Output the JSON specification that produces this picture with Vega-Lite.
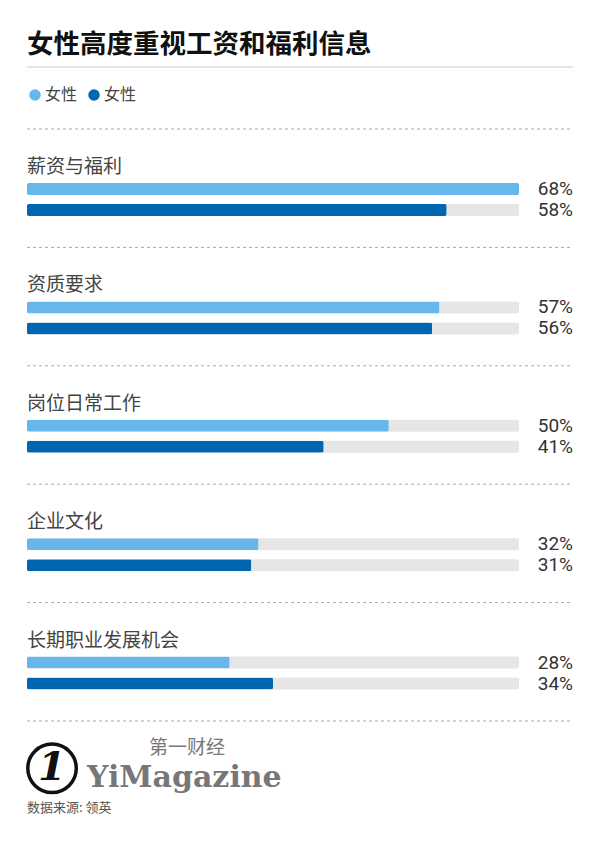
{
  "$schema": "https://vega.github.io/schema/vega-lite/v6.json",
  "width": 492,
  "height": 592,
  "autosize": {"type": "none"},
  "padding": {"left": 27, "top": 129, "right": 81, "bottom": 120},
  "background": "#ffffff",
  "title": {
    "text": "女性高度重视工资和福利信息",
    "anchor": "start",
    "frame": "group",
    "orient": "top",
    "offset": 8,
    "fontSize": 26.5,
    "fontWeight": "bold",
    "font": "Noto Sans CJK SC",
    "color": "#111111"
  },
  "config": {
    "view": {"stroke": null},
    "font": "Noto Sans CJK SC"
  },
  "data": {
    "values": [
      {"category": "薪资与福利", "series": "A", "value": 0.68},
      {"category": "薪资与福利", "series": "B", "value": 0.58},
      {"category": "资质要求", "series": "A", "value": 0.57},
      {"category": "资质要求", "series": "B", "value": 0.56},
      {"category": "岗位日常工作", "series": "A", "value": 0.50},
      {"category": "岗位日常工作", "series": "B", "value": 0.41},
      {"category": "企业文化", "series": "A", "value": 0.32},
      {"category": "企业文化", "series": "B", "value": 0.31},
      {"category": "长期职业发展机会", "series": "A", "value": 0.28},
      {"category": "长期职业发展机会", "series": "B", "value": 0.34}
    ]
  },
  "resolve": {"scale": {"color": "independent"}},
  "layer": [
    {
      "data": {"values": [{}]},
      "mark": {"type": "rule", "color": "#dddddd", "strokeWidth": 1.5},
      "encoding": {
        "x": {"datum": 0, "type": "quantitative", "scale": {"domain": [0, 0.68], "nice": false, "zero": true}, "axis": null},
        "x2": {"datum": 0.7546},
        "y": {"datum": "薪资与福利", "type": "nominal", "bandPosition": -0.524, "scale": {"type": "band", "domain": ["薪资与福利", "资质要求", "岗位日常工作", "企业文化", "长期职业发展机会"], "paddingInner": 0, "paddingOuter": 0}, "axis": null}
      }
    },
    {
      "transform": [{"filter": "datum.series === 'A'"}],
      "mark": {"type": "rule", "color": "#a8a8a8", "strokeWidth": 1, "strokeDash": [3, 3]},
      "encoding": {
        "x": {"datum": 0, "type": "quantitative"},
        "x2": {"datum": 0.7546},
        "y": {"field": "category", "type": "nominal", "bandPosition": 0}
      }
    },
    {
      "data": {"values": [{}]},
      "mark": {"type": "rule", "color": "#a8a8a8", "strokeWidth": 1, "strokeDash": [3, 3]},
      "encoding": {
        "x": {"datum": 0, "type": "quantitative"},
        "x2": {"datum": 0.7546},
        "y": {"datum": "长期职业发展机会", "type": "nominal", "bandPosition": 1}
      }
    },
    {
      "transform": [{"filter": "datum.series === 'A'"}],
      "mark": {"type": "text", "align": "left", "baseline": "middle", "dy": 38, "fontSize": 19, "color": "#444444"},
      "encoding": {
        "x": {"datum": 0, "type": "quantitative"},
        "y": {"field": "category", "type": "nominal", "bandPosition": 0},
        "text": {"field": "category"}
      }
    },
    {
      "mark": {"type": "bar", "color": "#e6e6e6", "cornerRadius": 2},
      "encoding": {
        "x": {"datum": 0.68, "type": "quantitative"},
        "y": {"field": "category", "type": "nominal"},
        "yOffset": {"field": "series", "type": "nominal", "scale": {"domain": ["A", "B"], "range": [54, 87], "paddingInner": 0.4286, "paddingOuter": 0}}
      }
    },
    {
      "mark": {"type": "bar", "cornerRadius": 2},
      "encoding": {
        "x": {"field": "value", "type": "quantitative"},
        "y": {"field": "category", "type": "nominal"},
        "yOffset": {"field": "series", "type": "nominal"},
        "color": {
          "field": "series",
          "type": "nominal",
          "scale": {"domain": ["A", "B"], "range": ["#65b7ec", "#0066b2"]},
          "legend": {
            "orient": "none",
            "legendX": 0,
            "legendY": -42,
            "direction": "horizontal",
            "title": null,
            "symbolType": "circle",
            "symbolSize": 132,
            "symbolStrokeWidth": 0,
            "labelExpr": "'女性'",
            "labelFontSize": 16,
            "labelColor": "#444444",
            "labelFont": "Noto Sans CJK SC",
            "labelOffset": 2,
            "columnPadding": 8,
            "padding": 0
          }
        }
      }
    },
    {
      "mark": {"type": "text", "align": "right", "baseline": "middle", "dx": 54, "fontSize": 19, "font": "Roboto", "color": "#333333"},
      "encoding": {
        "x": {"datum": 0.68, "type": "quantitative"},
        "y": {"field": "category", "type": "nominal"},
        "yOffset": {"field": "series", "type": "nominal"},
        "text": {"field": "value", "type": "quantitative", "format": ".0%"}
      }
    },
    {
      "data": {"values": [{}]},
      "mark": {"type": "point", "shape": "circle", "filled": false, "stroke": "#111111", "strokeWidth": 3.5, "size": 2350, "opacity": 1},
      "encoding": {
        "x": {"datum": 0.0346, "type": "quantitative"},
        "y": {"datum": "长期职业发展机会", "type": "nominal", "bandPosition": 1.4}
      }
    },
    {
      "data": {"values": [{}]},
      "mark": {"type": "text", "text": "1", "align": "center", "baseline": "middle", "dx": 25, "dy": 47, "fontSize": 40, "font": "DejaVu Serif", "fontWeight": "bold", "fontStyle": "italic", "color": "#111111"},
      "encoding": {
        "x": {"datum": 0, "type": "quantitative"},
        "y": {"datum": "长期职业发展机会", "type": "nominal", "bandPosition": 1}
      }
    },
    {
      "data": {"values": [{}]},
      "mark": {"type": "text", "text": "第一财经", "align": "center", "baseline": "middle", "dx": 160, "dy": 27, "fontSize": 19, "color": "#777777"},
      "encoding": {
        "x": {"datum": 0, "type": "quantitative"},
        "y": {"datum": "长期职业发展机会", "type": "nominal", "bandPosition": 1}
      }
    },
    {
      "data": {"values": [{}]},
      "mark": {"type": "text", "text": "YiMagazine", "align": "left", "baseline": "alphabetic", "dx": 60, "dy": 66, "fontSize": 30, "font": "DejaVu Serif", "fontWeight": "bold", "color": "#777777"},
      "encoding": {
        "x": {"datum": 0, "type": "quantitative"},
        "y": {"datum": "长期职业发展机会", "type": "nominal", "bandPosition": 1}
      }
    },
    {
      "data": {"values": [{}]},
      "mark": {"type": "text", "text": "数据来源: 领英", "align": "left", "baseline": "middle", "dy": 87, "fontSize": 13, "color": "#555555"},
      "encoding": {
        "x": {"datum": 0, "type": "quantitative"},
        "y": {"datum": "长期职业发展机会", "type": "nominal", "bandPosition": 1}
      }
    }
  ]
}
